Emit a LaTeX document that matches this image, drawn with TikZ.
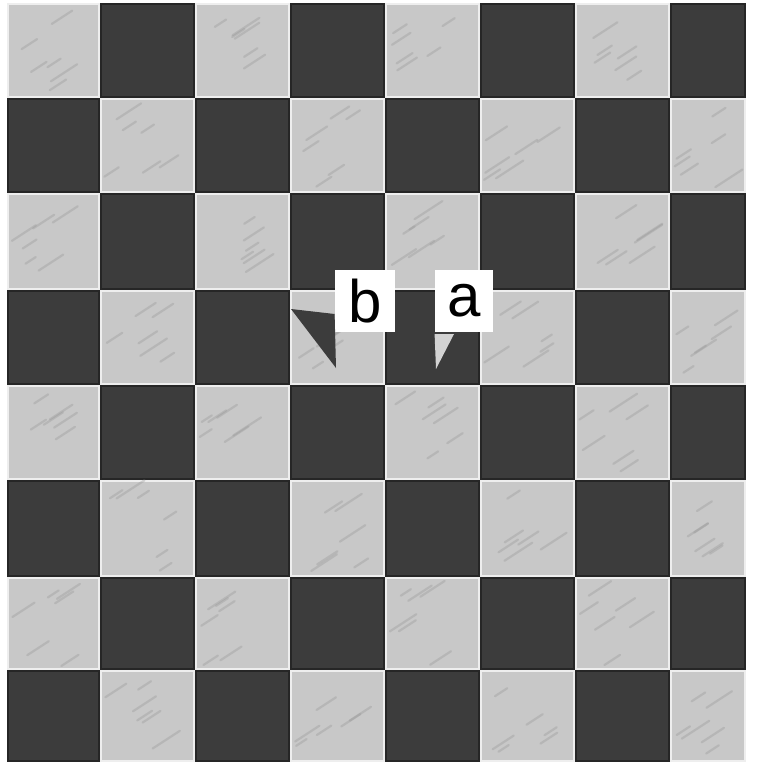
\documentclass[tikz,border=0pt]{standalone}
\usepackage{fontspec}
\setmainfont{Liberation Sans}
\usetikzlibrary{positioning}
\definecolor{sqdark}{RGB}{60,60,60}
\definecolor{sqlight}{RGB}{200,200,200}
\definecolor{streak}{RGB}{150,150,150}
\tikzset{
  darksq/.style={fill=sqdark, draw=black!85, line width=0.9pt},
  lightsq/.style={fill=sqlight, draw=white!70!sqlight, line width=0.6pt},
  grain/.style={streak, line width=1.1pt, opacity=0.35, line cap=round},
  tag/.style={rectangle, fill=white, inner sep=0pt, minimum height=31pt, text width=#1, align=center, font=\fontsize{30}{30}\selectfont},
  tag/.default=29pt,
}

\begin{document}
\begin{tikzpicture}[x=0.5pt, y=-0.5pt]
  \fill[white] (0,0) rectangle (759,766);
  \useasboundingbox (0,0) rectangle (759,766);
  \pgfmathsetseed{11}
  \def\colx{{7,100,195,290,385,480,575,670,746}}
  \def\rowy{{3,98,193,290,385,480,577,670,762}}
  % board
  \foreach \r in {0,...,7} {
    \foreach \c in {0,...,7} {
      \pgfmathsetmacro\xa{\colx[\c]}
      \pgfmathsetmacro\xb{\colx[\c+1]}
      \pgfmathsetmacro\ya{\rowy[\r]}
      \pgfmathsetmacro\yb{\rowy[\r+1]}
      \pgfmathtruncatemacro\odd{mod(\r+\c,2)}
      \ifnum\odd=1
        \filldraw[darksq] (\xa+1,\ya+1) rectangle (\xb-1,\yb-1);
      \else
        \filldraw[lightsq] (\xa+1,\ya+1) rectangle (\xb-1,\yb-1);
        \foreach \k in {1,...,6} {
          \pgfmathsetmacro\sx{\xa+4+rnd*(\xb-\xa-34)}
          \pgfmathsetmacro\sy{\ya+18+rnd*(\yb-\ya-22)}
          \pgfmathsetmacro\sl{10+rnd*18}
          \draw[grain] (\sx,\sy) -- ++(\sl,-0.65*\sl);
        }
      \fi
    }
  }
  % labels
  \node[tag=30pt] (labelb) at (365,301) {b};
  \node[tag=29pt] (labela) at (464,301) {a};
  % pointers
  \coordinate (tipb) at (336,368);
  \coordinate (tipa) at (436,369);
  \fill[sqdark] (291,309) -- (labelb.west |- 0,314) -- (tipb) -- cycle;
  \fill[sqlight!80!white] (labela.west |- 0,334) -- (454,334) -- (tipa) -- cycle;
\end{tikzpicture}
\end{document}
